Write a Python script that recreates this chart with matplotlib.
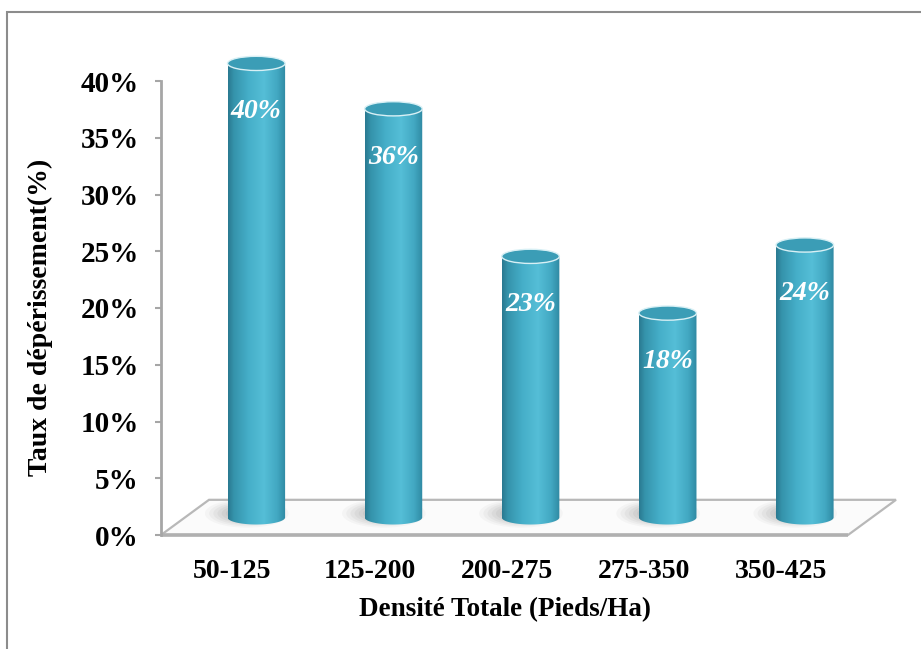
import numpy as np
import matplotlib
matplotlib.use("Agg")
import matplotlib.pyplot as plt
from matplotlib.patches import Polygon, Ellipse, Rectangle
from matplotlib.colors import LinearSegmentedColormap

# Data
categories = ["50-125", "125-200", "200-275", "275-350", "350-425"]
values = [40, 36, 23, 18, 24]
y_ticks = [0, 5, 10, 15, 20, 25, 30, 35, 40]
x_title = "Densité Totale (Pieds/Ha)"
y_title = "Taux de dépérissement(%)"

plt.rcParams["font.family"] = ["Liberation Serif", "DejaVu Serif"]
plt.rcParams["font.weight"] = "bold"

fig = plt.figure(figsize=(9.21, 6.49), dpi=100)
fig.patch.set_facecolor("white")

# outer frame of the chart area
fig.patches.append(Rectangle((7 / 921, -0.2), 1.5, 1.2 - 12 / 649,
                             transform=fig.transFigure, fill=False,
                             edgecolor="#8c8c8c", lw=1.5))

ax = fig.add_axes([161 / 921, 114 / 649, 687 / 921, 499.4 / 649])
XMIN, XMAX = -0.52, 4.49
ax.set_xlim(XMIN, XMAX)
ax.set_ylim(0, 44)
ax.patch.set_visible(False)

# 3D depth of the floor (data units) and cylinder geometry
DX, DY = 0.35, 3.1
BAR_W = 0.42
ELL_H = 1.25

for s in ["top", "right", "bottom"]:
    ax.spines[s].set_visible(False)
ax.spines["left"].set_bounds(0, 40)
ax.spines["left"].set_color("#a6a6a6")
ax.spines["left"].set_linewidth(2)
ax.spines["left"].set_zorder(3)

ax.set_yticks(y_ticks)
ax.set_yticklabels([f"{t}%" for t in y_ticks])
ax.tick_params(axis="y", length=4, width=1.5, color="#a6a6a6", pad=12,
               labelsize=21)
ax.set_xticks(range(len(categories)))
ax.set_xticklabels(categories)
ax.tick_params(axis="x", length=0, pad=17, labelsize=20)
for lab in ax.get_xticklabels() + ax.get_yticklabels():
    lab.set_fontweight("bold")

ax.set_xlabel(x_title, fontsize=19.5, fontweight="bold")
ax.xaxis.set_label_coords(0.5, -0.149)
ax.xaxis.label.set_va("center")
ax.set_ylabel(y_title, fontsize=20, fontweight="bold")
ax.yaxis.set_label_coords(-0.176, 0.436)
ax.yaxis.label.set_va("center")

# floor
floor = Polygon([(XMIN, 0), (XMAX, 0), (XMAX + DX, DY), (XMIN + DX, DY)],
                closed=True, facecolor="#fbfbfb", edgecolor="#b8b8b8",
                lw=1.6, zorder=1, joinstyle="miter", clip_on=False)
ax.add_patch(floor)
ax.plot([XMIN, XMAX], [0, 0], color="#b0b0b0", lw=2.6, zorder=1.5,
        solid_capstyle="butt", clip_on=False)

cmap = LinearSegmentedColormap.from_list(
    "cyl",
    [(0.0, "#2a7990"), (0.1, "#3593ab"), (0.35, "#45aec8"),
     (0.62, "#55bed7"), (0.85, "#42a8c2"), (1.0, "#2f89a2")])
grad = np.linspace(0, 1, 256)[None, :]

for i, v in enumerate(values):
    cx = i + DX / 2
    base = DY / 2
    top = v + DY / 2
    a = BAR_W / 2
    b = ELL_H / 2

    # soft shadow on the floor
    for k, al in zip(range(6), [0.05, 0.06, 0.07, 0.08, 0.09, 0.10]):
        sc = 1.0 - k * 0.1
        ax.add_patch(Ellipse((cx - 0.07, base + 0.35), BAR_W * 1.45 * sc,
                             ELL_H * 2.0 * sc, facecolor="#7a7a7a",
                             edgecolor="none", alpha=al, zorder=2))

    # cylinder body: straight sides, rounded lower rim
    ang = np.linspace(0, -np.pi, 60)
    xs = np.concatenate([[cx - a, cx - a, cx + a], cx + a * np.cos(ang)])
    ys = np.concatenate([[base, top, top], base + b * np.sin(ang)])
    body = Polygon(np.column_stack([xs, ys]), closed=True,
                   facecolor="none", edgecolor="none", zorder=4)
    ax.add_patch(body)
    im = ax.imshow(grad, cmap=cmap, aspect="auto", interpolation="bilinear",
                   extent=[cx - a, cx + a, base - b, top], zorder=4)
    im.set_clip_path(body)

    # top face
    ax.add_patch(Ellipse((cx, top), BAR_W, ELL_H, facecolor="#3b9db6",
                         edgecolor="#d8f0f5", lw=1.0, zorder=5))

    ax.text(cx, v - 2.7, f"{v}%", color="white", fontsize=20,
            fontweight="bold", fontstyle="italic", ha="center", va="center",
            zorder=6)

ax.set_xlim(XMIN, XMAX)
ax.set_ylim(0, 44)

fig.savefig("out.png", dpi=100, facecolor="white")
